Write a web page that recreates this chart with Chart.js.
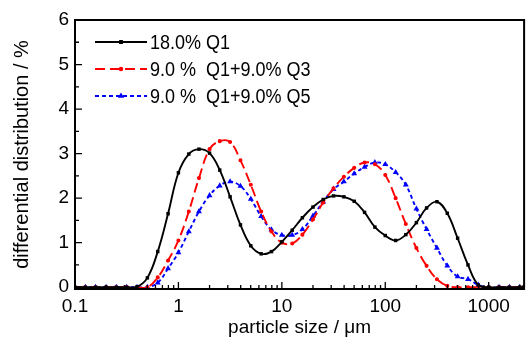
<!DOCTYPE html>
<html>
<head>
<meta charset="utf-8">
<script src="https://cdn.jsdelivr.net/npm/chart.js@4"></script>
<style>
  html, body { margin: 0; padding: 0; background: #fff; }
  #wrap { width: 530px; height: 339px; position: relative; }
</style>
</head>
<body>
<div id="wrap"><canvas id="psdChart"></canvas></div>
<script>
// particle sizes (um), about 10 per decade
var sizes = [0.1, 0.126, 0.158, 0.2, 0.251, 0.316, 0.398, 0.501, 0.631, 0.794,
  1, 1.26, 1.58, 2, 2.51, 3.16, 3.98, 5.01, 6.31, 7.94,
  10, 12.6, 15.8, 20, 25.1, 31.6, 39.8, 50.1, 63.1, 79.4,
  100, 126, 158, 200, 251, 316, 398, 501, 631, 794,
  1000, 1259, 1585, 1995, 2188];

var q1 = [0, 0, 0, 0, 0, 0, 0.01, 0.21, 0.80, 1.65,
  2.57, 2.99, 3.10, 3.01, 2.63, 2.03, 1.40, 0.93, 0.75, 0.80,
  1.02, 1.28, 1.56, 1.80, 1.97, 2.05, 2.03, 1.93, 1.68, 1.35,
  1.16, 1.05, 1.18, 1.45, 1.78, 1.92, 1.66, 1.10, 0.50, 0.05,
  0, 0, 0, 0, 0];

var q1q3 = [0, 0, 0, 0, 0, 0, 0, 0, 0.22, 0.60,
  1.05, 1.70, 2.45, 3.10, 3.28, 3.26, 2.85, 2.30, 1.70, 1.25,
  1.00, 0.98, 1.18, 1.52, 1.90, 2.22, 2.48, 2.68, 2.80, 2.76,
  2.52, 2.00, 1.42, 0.88, 0.48, 0.18, 0.03, 0, 0, 0,
  0, 0, 0, 0, 0];

var q1q5 = [0, 0, 0, 0, 0, 0, 0, 0, 0.10, 0.42,
  0.78, 1.25, 1.70, 2.06, 2.28, 2.37, 2.27, 1.98, 1.59, 1.29,
  1.17, 1.17, 1.30, 1.60, 1.92, 2.20, 2.37, 2.55, 2.70, 2.80,
  2.76, 2.58, 2.30, 1.76, 1.30, 0.88, 0.48, 0.24, 0.18, 0.05,
  0, 0, 0, 0, 0];

var seriesNames = ['18.0% Q1', '9.0 %  Q1+9.0% Q3', '9.0 %  Q1+9.0% Q5'];
var xTicks = [0.1, 1, 10, 100, 1000];
var yTicks = [0, 1, 2, 3, 4, 5, 6];

var FONT = '"Liberation Sans", Arial, sans-serif';

function toPoints(arr) {
  return arr.map(function (v, i) { return { x: sizes[i], y: v }; });
}

// frame, inward ticks and legend, drawn the Origin way
var originStyle = {
  id: 'originStyle',
  afterDatasetsDraw: function (chart) {
    var ctx = chart.ctx;
    var a = chart.chartArea;
    var xs = chart.scales.x, ys = chart.scales.y;
    ctx.save();
    ctx.strokeStyle = '#000';
    ctx.lineWidth = 2;
    ctx.strokeRect(a.left, a.top, a.right - a.left, a.bottom - a.top);

    ctx.lineWidth = 1.3;
    ctx.beginPath();
    for (var d = -1; d <= 3; d++) {
      for (var m = 1; m <= 9; m++) {
        var v = m * Math.pow(10, d);
        if (v > xs.max) break;
        var px = xs.getPixelForValue(v);
        var len = m === 1 ? 7 : 4;
        ctx.moveTo(px, a.bottom);
        ctx.lineTo(px, a.bottom - len);
      }
    }
    for (var t = 0; t <= 6; t += 0.5) {
      var py = ys.getPixelForValue(t);
      var l2 = t % 1 === 0 ? 7 : 4;
      ctx.moveTo(a.left, py);
      ctx.lineTo(a.left + l2, py);
    }
    ctx.stroke();

    // legend
    var rows = [42, 69, 96];
    ctx.font = '20px ' + FONT;
    ctx.textBaseline = 'middle';
    ctx.textAlign = 'left';
    chart.data.datasets.forEach(function (ds, i) {
      var y = rows[i];
      ctx.strokeStyle = ds.borderColor;
      ctx.lineWidth = 1.8;
      ctx.setLineDash(ds.borderDash || []);
      ctx.beginPath();
      ctx.moveTo(95, y);
      ctx.lineTo(147, y);
      ctx.stroke();
      ctx.setLineDash([]);
      Chart.helpers.drawPoint(ctx, {
        pointStyle: ds.pointStyle, radius: ds.pointRadius + 0.3, rotation: 0, borderWidth: 1
      }, 121, y);
      ctx.fillStyle = ds.borderColor;
      ctx.fill();
      // Origin squeezes its text a little
      ctx.save();
      ctx.translate(150, y + 1);
      ctx.scale(0.9, 1);
      ctx.fillStyle = '#000';
      ctx.fillText(ds.label, 0, 0);
      ctx.restore();
    });
    ctx.restore();
  }
};

document.addEventListener('DOMContentLoaded', function () {
  var ctx = document.getElementById('psdChart').getContext('2d');

  new Chart(ctx, {
    type: 'line',
    data: {
      datasets: [{
        label: seriesNames[0],
        data: toPoints(q1),
        borderColor: '#000000',
        backgroundColor: '#000000',
        borderWidth: 1.9,
        pointStyle: 'rect',
        pointRadius: 1.1
      }, {
        label: seriesNames[1],
        data: toPoints(q1q3),
        borderColor: '#ff0000',
        backgroundColor: '#ff0000',
        borderWidth: 1.9,
        borderDash: [10, 5],
        pointStyle: 'circle',
        pointRadius: 1.1
      }, {
        label: seriesNames[2],
        data: toPoints(q1q5),
        borderColor: '#0000ff',
        backgroundColor: '#0000ff',
        borderWidth: 1.9,
        borderDash: [4, 3],
        pointStyle: 'triangle',
        pointRadius: 1.5
      }]
    },
    options: {
      responsive: true,
      maintainAspectRatio: false,
      animation: false,
      elements: { line: { tension: 0.4 } },
      layout: { padding: { top: 20, right: 2, left: 0, bottom: 0 } },
      plugins: {
        legend: { display: false },
        tooltip: { enabled: false }
      },
      scales: {
        x: {
          type: 'logarithmic',
          min: 0.1,
          max: 2200,
          afterBuildTicks: function (s) { s.ticks = xTicks.map(function (v) { return { value: v }; }); },
          afterFit: function (s) { s.height = 50; },
          grid: { display: false, drawTicks: false },
          border: { display: false },
          ticks: {
            color: '#000',
            font: { family: FONT, size: 19 },
            padding: 6,
            maxRotation: 0,
            autoSkip: false,
            callback: function (v) { return String(v); }
          },
          title: {
            display: true,
            text: 'particle size / \u03bcm',
            color: '#000',
            font: { family: FONT, size: 19 },
            padding: { top: 0, bottom: 0 }
          }
        },
        y: {
          min: -0.04,
          max: 6,
          afterBuildTicks: function (s) { s.ticks = yTicks.map(function (v) { return { value: v }; }); },
          afterFit: function (s) { s.width = 75; },
          grid: { display: false, drawTicks: false },
          border: { display: false },
          ticks: {
            color: '#000',
            font: { family: FONT, size: 19 },
            padding: 6
          },
          title: {
            display: true,
            text: 'differential distribution / %',
            color: '#000',
            font: { family: FONT, size: 20 },
            padding: { top: 10, bottom: 0 }
          }
        }
      }
    },
    plugins: [originStyle]
  });
});
</script>
</body>
</html>
